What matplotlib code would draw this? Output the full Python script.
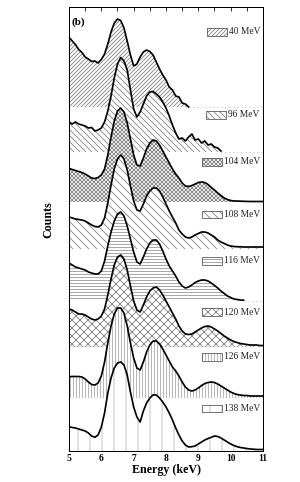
import numpy as np
import matplotlib
matplotlib.use("Agg")
import matplotlib.pyplot as plt
from matplotlib.patches import Rectangle

# ---------------- data ----------------
energy = np.round(np.arange(50, 111) / 10.0, 1)  # keV, 5.0 ... 11.0

labels = ["40 MeV", "96 MeV", "104 MeV", "108 MeV", "116 MeV", "120 MeV", "126 MeV", "138 MeV"]

counts_40 = [69.7, 66, 62.5, 57.5, 54.5, 50, 48, 45.5, 46, 44,
             47.5, 53, 63, 75, 84, 88, 86.5, 79, 66, 52,
             41, 43, 50, 55, 57, 55.5, 52, 45, 38, 32,
             27, 20, 17, 11, 10, 4, 3, 0]
counts_96 = [30, 28, 30, 28, 27, 26, 24, 24.5, 21, 22,
             24, 30, 41, 56, 74, 88, 94.5, 91, 82, 62,
             43, 35, 40, 48, 56, 60, 60.5, 58, 55, 50,
             44, 36, 27, 19, 13, 14, 11, 15, 18, 12,
             13, 9, 11, 7, 8, 5, 4, 1]
counts_104 = [33.7, 32.5, 31.5, 30.5, 29.5, 28, 26, 24, 23.5, 24.5,
              27, 33, 47, 65, 81, 91, 94, 90, 79, 63,
              47, 37, 36, 44, 53, 59, 62, 61, 57, 51,
              45, 39, 33, 28, 24, 19, 16, 15.5, 16.5, 18,
              19.5, 20, 19.5, 17.5, 14.5, 12, 9, 6.5, 4, 2.5,
              1.5, 1, 1, 0.8, 0.7, 0.6, 0.5, 0.5, 0.5, 0.5, 0.5]
counts_108 = [32, 31, 30, 29.5, 29, 28, 26, 24, 22.5, 22,
              24, 31, 46, 64, 80, 90, 94, 90, 79, 63,
              48, 39, 38, 45, 53, 58, 61, 61, 58, 52,
              45, 38, 32, 26, 19, 15, 12, 11, 12, 14,
              15.5, 17, 17, 16, 14, 12, 9, 7, 5.5, 4,
              3, 2.5, 2.3, 2.2, 2, 2, 2, 2, 2, 2, 2]
counts_116 = [38, 36, 34, 33, 32, 31, 29, 28, 27, 27,
              30, 40, 55, 69, 80, 87, 89, 85, 75, 62,
              49, 39, 37, 44, 52, 58, 61, 61, 57, 50,
              42, 35, 30, 25, 19, 15, 13, 14, 16, 18.5,
              20, 21, 21, 20, 18, 15.5, 13, 10, 7.5, 5,
              3.5, 2, 1.5, 1, 0.8]
counts_120 = [38, 37, 35, 33, 33, 32, 30, 28, 27, 28,
              31, 38, 52, 68, 82, 90, 92, 88, 77, 61,
              46, 37, 35, 42, 50, 56, 59, 60, 57, 52,
              46, 40, 34, 28, 21, 16, 13, 12.5, 13, 15,
              17, 19, 20.5, 21, 20, 18, 16, 13.5, 11, 9,
              7, 5.5, 4.5, 3.5, 3, 2.5, 2, 2, 2, 1.5, 1.5]
counts_126 = [21.3, 21.5, 21.5, 21.5, 21, 19, 16, 13.5, 13, 15,
              22, 36, 55, 72, 84, 90, 90, 85, 72, 55,
              40, 30, 28, 36, 46, 53, 57, 57, 54, 49,
              43, 37, 31, 27, 22, 16, 11, 8, 7, 8,
              10, 12.5, 14.5, 15.5, 16, 15.5, 14, 12, 10, 8,
              6, 4.5, 3.5, 3, 2.5, 2.5, 2, 2, 2, 2, 2]
counts_138 = [24.3, 23.5, 23, 22, 21, 20, 18, 15, 13.7, 16,
              24, 38, 58, 73, 83, 88, 89, 86, 76, 59,
              44, 34, 29, 40, 48, 53, 56, 56, 53, 49,
              44, 38, 31, 23, 16, 10, 6, 4, 4.3, 5,
              7, 9, 11, 12.5, 13.7, 15, 14.5, 13, 11, 9,
              7, 5.5, 4.3, 3.5, 3, 2.5, 2, 1.8, 1.5, 1.5, 1.5]

series = [counts_40, counts_96, counts_104, counts_108,
          counts_116, counts_120, counts_126, counts_138]

# ---------------- layout / style ----------------
offsets = [344, 299, 249, 202, 150, 104, 53, 0]
hatches = ["//////", "\\" * 4, "xxxxxx", "\\" * 3, "----", "xxx", "||||", "|"]
hatch_colors = ["#8a8a8a", "#8a8a8a", "#8a8a8a", "#8a8a8a",
                "#a0a0a0", "#8a8a8a", "#b0b0b0", "#bdbdbd"]
label_rect_x = [0.71, 0.705, 0.684, 0.684, 0.684, 0.684, 0.684, 0.684]
label_y = [0.944, 0.757, 0.651, 0.533, 0.428, 0.313, 0.212, 0.096]

DPI = 72
plt.rcParams["font.family"] = ["Liberation Serif", "DejaVu Serif"]
plt.rcParams["hatch.linewidth"] = 0.9

fig = plt.figure(figsize=(300 / DPI, 482 / DPI), dpi=DPI)
ax = fig.add_axes([69 / 300, 31 / 482, 194 / 300, 444 / 482])

n = len(energy)
for i, (vals, off) in enumerate(zip(series, offsets)):
    y = np.full(n, np.nan)
    y[:len(vals)] = vals
    yfill = np.nan_to_num(y, nan=0.0)
    z = 2 + 2 * i
    ax.fill_between(energy, off, off + yfill, facecolor="white",
                    edgecolor=hatch_colors[i], hatch=hatches[i],
                    linewidth=0, zorder=z)
    ax.plot(energy, off + y, color="black", lw=1.7, zorder=z + 1,
            solid_joinstyle="round")
    last = energy[len(vals) - 1]
    if last < 11:
        ax.plot([last, 11], [off, off], color="#9a9a9a", lw=0.8,
                ls=(0, (1, 4)), zorder=z + 1)
    # label box with hatch sample
    rect = Rectangle((label_rect_x[i], label_y[i] - 0.0085), 0.103, 0.017,
                     transform=ax.transAxes, facecolor="white",
                     edgecolor=hatch_colors[i], hatch=hatches[i],
                     linewidth=0, zorder=30)
    ax.add_patch(rect)
    border = Rectangle((label_rect_x[i], label_y[i] - 0.0085), 0.103, 0.017,
                       transform=ax.transAxes, facecolor="none",
                       edgecolor="#555555", linewidth=0.8, zorder=31)
    ax.add_patch(border)
    ax.text(label_rect_x[i] + 0.114, label_y[i], labels[i],
            transform=ax.transAxes, fontsize=9.5, va="center", ha="left",
            color="#222222", zorder=32)

ax.text(0.012, 0.965, "(b)", transform=ax.transAxes, fontsize=11,
        fontweight="bold", va="center", ha="left", zorder=40)

ax.set_xlim(5, 11)
ax.set_ylim(0, 444)
ax.set_xticks(np.arange(5, 12, 1))
ax.set_xticks(np.arange(5, 11.01, 0.5), minor=True)
ax.set_xticklabels([str(v) for v in range(5, 12)], fontweight="bold", fontsize=9.5)
ax.set_yticks([])
ax.tick_params(axis="x", which="both", direction="in", top=True, bottom=True,
               length=3.5, width=0.8, pad=3)
for s in ax.spines.values():
    s.set_linewidth(1.0)
    s.set_zorder(50)

ax.set_xlabel("Energy (keV)", fontsize=12, fontweight="bold", labelpad=1)
ax.set_ylabel("Counts", fontsize=12, fontweight="bold")
ax.yaxis.set_label_coords(-0.075, 0.52)

fig.savefig("out.png", dpi=DPI)
